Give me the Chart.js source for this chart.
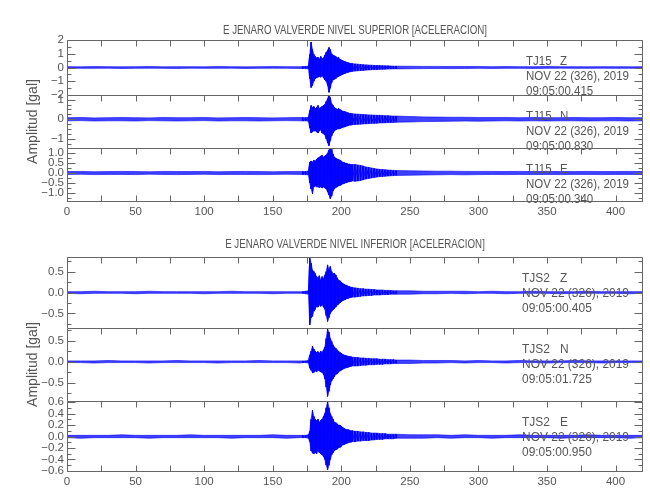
<!DOCTYPE html>
<html>
<head>
<meta charset="utf-8">
<script src="https://cdn.jsdelivr.net/npm/chart.js@4.4.1/dist/chart.umd.min.js"></script>
<style>
  body { margin: 0; background: #fff; overflow: hidden; }
  #wrap { position: relative; width: 650px; height: 500px; overflow: hidden; }
  #wrap canvas { position: absolute; left: 0; }
</style>
</head>
<body>
<div id="wrap"></div>
<script>
// time grid (s): quiet part, main shaking every 1 s, coda every 2 s, tail every 10 s
const times = [0,10,20,30,40,50,60,70,80,90,100,110,120,130,140,150,160,170,
  172,174,176,177,178,179,180,181,182,183,184,185,186,187,188,189,190,191,192,193,194,195,196,197,198,199,200,201,202,203,204,205,206,207,208,
  210,212,214,216,218,220,222,224,226,228,230,232,234,236,238,240,
  250,260,270,280,290,300,310,320,330,340,350,360,370,380,390,400,410,420];

// upper / lower envelope of each trace in gal
const z1Hi = [0.06,0.05,0.07,0.06,0.05,0.06,0.07,0.05,0.06,0.06,0.05,0.07,0.06,0.05,0.06,0.07,0.06,0.06,
  0.07,0.08,0.10,0.95,1.85,1.30,0.95,0.80,0.70,0.75,0.60,0.80,0.65,0.70,0.90,1.10,1.25,1.45,1.30,1.00,0.90,0.85,0.80,0.70,0.75,0.60,0.55,0.50,0.45,0.42,0.38,0.35,0.32,0.30,0.28,
  0.26,0.24,0.22,0.20,0.19,0.18,0.17,0.15,0.14,0.14,0.13,0.12,0.12,0.11,0.10,0.10,
  0.09,0.08,0.08,0.07,0.07,0.07,0.06,0.07,0.06,0.06,0.07,0.06,0.06,0.05,0.06,0.06,0.05,0.06];
const z1Lo = [-0.05,-0.06,-0.06,-0.05,-0.07,-0.06,-0.05,-0.06,-0.07,-0.05,-0.06,-0.06,-0.05,-0.07,-0.06,-0.05,-0.06,-0.07,
  -0.07,-0.08,-0.10,-0.80,-1.45,-1.30,-1.00,-0.80,-0.75,-0.70,-0.65,-0.70,-0.60,-0.75,-0.90,-1.00,-1.30,-1.80,-1.50,-1.10,-0.90,-0.85,-0.80,-0.70,-0.65,-0.60,-0.55,-0.50,-0.45,-0.42,-0.38,-0.35,-0.32,-0.30,-0.28,
  -0.26,-0.24,-0.22,-0.21,-0.19,-0.18,-0.16,-0.15,-0.15,-0.13,-0.13,-0.12,-0.11,-0.11,-0.10,-0.10,
  -0.09,-0.08,-0.07,-0.08,-0.07,-0.06,-0.07,-0.06,-0.06,-0.07,-0.06,-0.05,-0.06,-0.06,-0.05,-0.06,-0.06,-0.05];

const n1Hi = [0.08,0.09,0.07,0.08,0.09,0.08,0.07,0.09,0.08,0.08,0.09,0.07,0.08,0.09,0.08,0.07,0.08,0.09,
  0.09,0.08,0.10,0.45,0.70,0.60,0.65,0.55,0.60,0.70,0.55,0.60,0.65,0.70,0.75,0.90,1.05,1.25,1.10,0.80,0.70,0.60,0.55,0.50,0.55,0.50,0.45,0.42,0.40,0.38,0.35,0.33,0.30,0.30,0.28,
  0.27,0.26,0.25,0.24,0.23,0.22,0.22,0.21,0.20,0.20,0.19,0.18,0.18,0.17,0.16,0.16,
  0.14,0.12,0.11,0.10,0.10,0.09,0.09,0.09,0.08,0.09,0.08,0.08,0.09,0.08,0.08,0.09,0.08,0.08];
const n1Lo = [-0.08,-0.07,-0.09,-0.08,-0.08,-0.09,-0.07,-0.08,-0.09,-0.08,-0.07,-0.09,-0.08,-0.08,-0.09,-0.08,-0.07,-0.08,
  -0.09,-0.08,-0.10,-0.45,-0.70,-0.65,-0.60,-0.60,-0.65,-0.70,-0.60,-0.55,-0.70,-0.75,-0.80,-1.00,-1.20,-1.35,-1.10,-0.85,-0.70,-0.60,-0.55,-0.50,-0.50,-0.48,-0.45,-0.42,-0.40,-0.38,-0.35,-0.33,-0.30,-0.30,-0.28,
  -0.27,-0.26,-0.25,-0.24,-0.23,-0.22,-0.21,-0.21,-0.20,-0.19,-0.19,-0.18,-0.17,-0.17,-0.16,-0.15,
  -0.14,-0.12,-0.11,-0.10,-0.09,-0.10,-0.09,-0.08,-0.09,-0.08,-0.09,-0.08,-0.08,-0.09,-0.08,-0.08,-0.09,-0.08];

const e1Hi = [0.07,0.08,0.06,0.07,0.08,0.07,0.06,0.08,0.07,0.07,0.08,0.06,0.07,0.08,0.07,0.06,0.07,0.08,
  0.08,0.08,0.10,0.55,0.60,0.55,0.63,0.60,0.70,0.75,0.80,0.85,0.88,0.80,0.85,0.90,1.00,1.15,1.30,1.20,0.95,0.80,0.75,0.70,0.68,0.65,0.60,0.55,0.52,0.50,0.48,0.45,0.45,0.42,0.42,
  0.42,0.40,0.38,0.35,0.30,0.28,0.25,0.22,0.20,0.18,0.17,0.16,0.15,0.14,0.13,0.12,
  0.11,0.10,0.09,0.09,0.08,0.08,0.08,0.07,0.08,0.07,0.08,0.07,0.07,0.08,0.07,0.07,0.08,0.07];
const e1Lo = [-0.07,-0.06,-0.08,-0.07,-0.07,-0.08,-0.06,-0.07,-0.08,-0.07,-0.06,-0.08,-0.07,-0.07,-0.08,-0.07,-0.06,-0.07,
  -0.08,-0.08,-0.10,-0.50,-0.80,-1.03,-0.70,-0.65,-0.70,-0.70,-0.72,-0.70,-0.75,-0.70,-0.75,-0.80,-0.95,-1.10,-1.28,-1.15,-0.90,-0.80,-0.72,-0.70,-0.65,-0.62,-0.60,-0.55,-0.52,-0.50,-0.48,-0.45,-0.44,-0.42,-0.40,
  -0.41,-0.40,-0.37,-0.34,-0.30,-0.27,-0.25,-0.22,-0.20,-0.18,-0.17,-0.16,-0.15,-0.14,-0.13,-0.12,
  -0.11,-0.10,-0.09,-0.08,-0.09,-0.08,-0.07,-0.08,-0.07,-0.08,-0.07,-0.08,-0.07,-0.07,-0.08,-0.07,-0.07,-0.08];

const z2Hi = [0.02,0.02,0.03,0.02,0.02,0.02,0.03,0.02,0.02,0.02,0.02,0.02,0.03,0.02,0.02,0.02,0.02,0.02,
  0.02,0.03,0.04,0.82,0.70,0.54,0.50,0.45,0.38,0.35,0.40,0.30,0.38,0.33,0.42,0.50,0.66,0.55,0.62,0.50,0.45,0.46,0.42,0.35,0.30,0.28,0.25,0.22,0.20,0.18,0.17,0.15,0.14,0.13,0.12,
  0.11,0.10,0.09,0.09,0.08,0.08,0.07,0.07,0.06,0.06,0.06,0.05,0.05,0.05,0.04,0.04,
  0.04,0.03,0.03,0.03,0.03,0.02,0.03,0.02,0.02,0.03,0.02,0.02,0.02,0.03,0.02,0.02,0.02,0.02];
const z2Lo = [-0.02,-0.03,-0.02,-0.02,-0.02,-0.03,-0.02,-0.02,-0.02,-0.02,-0.03,-0.02,-0.02,-0.02,-0.02,-0.03,-0.02,-0.02,
  -0.02,-0.03,-0.04,-0.77,-0.60,-0.57,-0.45,-0.40,-0.33,-0.35,-0.30,-0.33,-0.30,-0.35,-0.40,-0.55,-0.69,-0.60,-0.50,-0.45,-0.41,-0.38,-0.35,-0.30,-0.28,-0.25,-0.22,-0.20,-0.18,-0.17,-0.15,-0.14,-0.13,-0.12,-0.11,
  -0.11,-0.10,-0.09,-0.08,-0.08,-0.07,-0.07,-0.06,-0.06,-0.06,-0.05,-0.05,-0.05,-0.04,-0.04,-0.04,
  -0.04,-0.03,-0.03,-0.02,-0.03,-0.02,-0.02,-0.03,-0.02,-0.02,-0.02,-0.03,-0.02,-0.02,-0.02,-0.02,-0.03,-0.02];

const n2Hi = [0.02,0.02,0.02,0.03,0.02,0.02,0.02,0.02,0.03,0.02,0.02,0.02,0.02,0.02,0.03,0.02,0.02,0.02,
  0.02,0.02,0.03,0.16,0.25,0.37,0.30,0.25,0.22,0.24,0.20,0.25,0.22,0.28,0.35,0.55,0.77,0.70,0.55,0.48,0.40,0.35,0.32,0.28,0.25,0.22,0.20,0.18,0.16,0.15,0.14,0.13,0.12,0.12,0.11,
  0.10,0.10,0.09,0.09,0.08,0.08,0.07,0.07,0.07,0.06,0.06,0.06,0.05,0.05,0.05,0.04,
  0.04,0.03,0.03,0.03,0.02,0.03,0.02,0.02,0.03,0.02,0.02,0.02,0.03,0.02,0.02,0.02,0.02,0.02];
const n2Lo = [-0.02,-0.02,-0.03,-0.02,-0.02,-0.02,-0.03,-0.02,-0.02,-0.02,-0.02,-0.03,-0.02,-0.02,-0.02,-0.02,-0.02,-0.03,
  -0.02,-0.02,-0.03,-0.15,-0.20,-0.26,-0.25,-0.22,-0.24,-0.20,-0.22,-0.24,-0.25,-0.30,-0.40,-0.60,-0.82,-0.70,-0.55,-0.45,-0.40,-0.35,-0.30,-0.28,-0.25,-0.22,-0.20,-0.18,-0.16,-0.15,-0.14,-0.13,-0.12,-0.11,-0.10,
  -0.10,-0.10,-0.09,-0.08,-0.08,-0.07,-0.07,-0.07,-0.06,-0.06,-0.06,-0.05,-0.05,-0.05,-0.04,-0.04,
  -0.04,-0.03,-0.03,-0.02,-0.03,-0.02,-0.02,-0.03,-0.02,-0.02,-0.03,-0.02,-0.02,-0.02,-0.03,-0.02,-0.02,-0.02];

const e2Hi = [0.02,0.02,0.02,0.02,0.03,0.02,0.02,0.02,0.02,0.03,0.02,0.02,0.02,0.02,0.02,0.03,0.02,0.02,
  0.02,0.02,0.03,0.09,0.30,0.46,0.35,0.30,0.28,0.30,0.25,0.28,0.30,0.35,0.40,0.50,0.61,0.50,0.40,0.35,0.30,0.25,0.24,0.22,0.20,0.20,0.18,0.16,0.14,0.13,0.12,0.12,0.11,0.10,0.10,
  0.09,0.09,0.08,0.08,0.07,0.07,0.06,0.06,0.06,0.05,0.05,0.05,0.04,0.04,0.04,0.04,
  0.03,0.03,0.03,0.02,0.03,0.02,0.02,0.02,0.03,0.02,0.02,0.02,0.02,0.03,0.02,0.02,0.02,0.02];
const e2Lo = [-0.02,-0.03,-0.02,-0.02,-0.02,-0.02,-0.03,-0.02,-0.02,-0.02,-0.02,-0.02,-0.03,-0.02,-0.02,-0.02,-0.03,-0.02,
  -0.02,-0.02,-0.03,-0.09,-0.25,-0.29,-0.30,-0.28,-0.30,-0.25,-0.28,-0.30,-0.32,-0.35,-0.40,-0.50,-0.58,-0.50,-0.40,-0.32,-0.28,-0.25,-0.23,-0.22,-0.20,-0.19,-0.17,-0.15,-0.14,-0.13,-0.12,-0.11,-0.10,-0.10,-0.09,
  -0.09,-0.08,-0.08,-0.07,-0.07,-0.07,-0.06,-0.06,-0.05,-0.05,-0.05,-0.04,-0.04,-0.04,-0.04,-0.03,
  -0.03,-0.03,-0.02,-0.03,-0.02,-0.02,-0.03,-0.02,-0.02,-0.02,-0.02,-0.03,-0.02,-0.02,-0.02,-0.02,-0.03,-0.02];

// axis ticks
const xTicks = [0, 50, 100, 150, 200, 250, 300, 350, 400];
const yTicks1 = [2, 1, 0, -1, -2];
const yTicks2 = [1, 0, -1];
const yTicks3 = [1, 0.5, 0, -0.5, -1];
const yTicks4 = [0.5, 0, -0.5];
const yTicks5 = [0.5, 0, -0.5];
const yTicks6 = [0.6, 0.4, 0.2, 0, -0.2, -0.4, -0.6];

const titles = ['E JENARO VALVERDE NIVEL SUPERIOR [ACELERACION]', 'E JENARO VALVERDE NIVEL INFERIOR [ACELERACION]'];
const stations = ['TJ15', 'TJ15', 'TJ15', 'TJS2', 'TJS2', 'TJS2'];
const comps = ['Z', 'N', 'E', 'Z', 'N', 'E'];
const dateText = 'NOV 22 (326), 2019';
const startTimes = ['09:05:00.415', '09:05:00.830', '09:05:00.340', '09:05:00.405', '09:05:01.725', '09:05:00.950'];

const FONT = '"Liberation Sans Narrow", "Liberation Sans", Arial, sans-serif';
const TEXT = '#555';
const FRAME = '#666';
const TRACE = 'rgba(0, 0, 255, 0.9)';
const BAND = 'rgba(0, 0, 255, 0.75)';
const PAD = 40;   // room above/below each panel in its canvas
const XAX = 20;   // x-axis label band on the bottom panels
const SHAKE = [172, 240];  // window where the 1-2 s strokes are drawn

const panels = [
  { top: 40,  bottom: 95,  min: -2,    max: 2,    ticks: yTicks1, dec: 0, minor: 0.5,  hi: z1Hi, lo: z1Lo, group: 0, title: true },
  { top: 95,  bottom: 148, min: -1.47, max: 1.24, ticks: yTicks2, dec: 0, minor: 0.25, hi: n1Hi, lo: n1Lo, group: 0, ylabel: true },
  { top: 148, bottom: 202, min: -1.45, max: 1.25, ticks: yTicks3, dec: 1, minor: 0.25, hi: e1Hi, lo: e1Lo, group: 0, last: true },
  { top: 257, bottom: 328, min: -0.85, max: 0.85, ticks: yTicks4, dec: 1, minor: 0.25, hi: z2Hi, lo: z2Lo, group: 1, title: true },
  { top: 328, bottom: 401, min: -0.93, max: 0.8,  ticks: yTicks5, dec: 1, minor: 0.25, hi: n2Hi, lo: n2Lo, group: 1, ylabel: true },
  { top: 401, bottom: 472, min: -0.62, max: 0.62, ticks: yTicks6, dec: 1, minor: 0.1,  hi: e2Hi, lo: e2Lo, group: 1, last: true },
];
const titleY = [30, 244];
const textX = [526, 522];
const dateW = [103, 107];

function fmt(v, dec) {
  const s = Math.abs(v).toFixed(dec);
  return v < 0 ? '\u2212' + s : s;
}

// draw text squeezed/stretched horizontally by sx
function drawScaled(ctx, s, x, y, sx) {
  ctx.save();
  ctx.translate(x, y);
  ctx.scale(sx, 1);
  ctx.fillText(s, 0, 0);
  ctx.restore();
}

function makeDeco(p, i, canvasTop) {
  return {
    id: 'deco',
    afterDatasetsDraw(chart) {
      const { ctx, chartArea: a, scales: { x, y } } = chart;
      const L = Math.round(a.left) + 0.5, R = Math.round(a.right) - 0.5;
      const T = Math.round(a.top) + 0.5, B = Math.round(a.bottom) - 0.5;
      ctx.save();
      ctx.strokeStyle = FRAME;
      ctx.lineWidth = 1;
      ctx.beginPath();
      // box: top, sides, bottom only on the last panel
      ctx.moveTo(L, B + 0.5); ctx.lineTo(L, T); ctx.lineTo(R, T); ctx.lineTo(R, B + 0.5);
      if (p.last) { ctx.moveTo(L, B); ctx.lineTo(R, B); }
      // y ticks, major and minor, on both sides pointing in
      const n0 = Math.ceil(p.min / p.minor - 1e-6), n1 = Math.floor(p.max / p.minor + 1e-6);
      for (let n = n0; n <= n1; n++) {
        const v = n * p.minor;
        const major = p.ticks.some(t => Math.abs(t - v) < 1e-6);
        const len = major ? 8 : 4;
        const py = Math.round(y.getPixelForValue(v)) + 0.5;
        ctx.moveTo(L, py); ctx.lineTo(L + len, py);
        ctx.moveTo(R, py); ctx.lineTo(R - len, py);
      }
      // x ticks every 25 s
      for (let t = 25; t <= 420; t += 25) {
        const px = Math.round(x.getPixelForValue(t)) + 0.5;
        ctx.moveTo(px, T); ctx.lineTo(px, T + 6);
        if (p.last) { ctx.moveTo(px, B); ctx.lineTo(px, B - 6); }
      }
      ctx.stroke();

      ctx.fillStyle = TEXT;
      ctx.textBaseline = 'alphabetic';
      ctx.textAlign = 'left';
      // station block
      ctx.font = '12px ' + FONT;
      const sx = dateW[p.group] / ctx.measureText(dateText).width;
      const tx = textX[p.group];
      drawScaled(ctx, stations[i], tx, T + 24.5, sx);
      drawScaled(ctx, comps[i], 560, T + 24.5, sx);
      drawScaled(ctx, dateText, tx, T + 39, sx);
      drawScaled(ctx, startTimes[i], tx, T + 54, sx);

      if (p.title) {
        ctx.font = '13px ' + FONT;
        ctx.textAlign = 'center';
        ctx.textBaseline = 'middle';
        const w = ctx.measureText(titles[0]).width;
        drawScaled(ctx, titles[p.group], (a.left + a.right) / 2, titleY[p.group] - canvasTop, 264 / w);
      }
      if (p.ylabel) {
        ctx.font = '14px ' + FONT;
        ctx.textAlign = 'center';
        ctx.textBaseline = 'middle';
        ctx.translate(33, (a.top + a.bottom) / 2);
        ctx.rotate(-Math.PI / 2);
        ctx.fillText('Amplitud [gal]', 0, 0);
      }
      ctx.restore();
    }
  };
}

const wrap = document.getElementById('wrap');
panels.forEach((p, i) => {
  const canvasTop = p.top - PAD;
  const cv = document.createElement('canvas');
  cv.width = 650;
  cv.height = p.bottom - p.top + 2 * PAD;
  cv.style.top = canvasTop + 'px';
  wrap.appendChild(cv);

  // in the shaking window each bin is a stroke from its upper to its lower value
  const zig = [];
  times.forEach((t, k) => {
    if (t < SHAKE[0] || t > SHAKE[1]) return;
    zig.push({ x: t, y: p.hi[k] });
    zig.push({ x: t, y: p.lo[k] });
  });
  // envelope band for the whole record
  const upper = times.map((t, k) => ({ x: t, y: p.hi[k] }));
  const lower = times.map((t, k) => ({ x: t, y: p.lo[k] }));

  new Chart(cv, {
    type: 'line',
    data: {
      datasets: [
        { data: zig, borderColor: TRACE, borderWidth: 1, pointRadius: 0, tension: 0, fill: false },
        { data: upper, borderColor: BAND, borderWidth: 0.8, pointRadius: 0, tension: 0, fill: false },
        { data: lower, borderColor: BAND, borderWidth: 0.8, pointRadius: 0, tension: 0, fill: '-1', backgroundColor: BAND },
      ],
    },
    options: {
      responsive: false,
      animation: false,
      events: [],
      layout: { padding: { top: PAD, bottom: p.last ? PAD - XAX : PAD, left: 0, right: 7 } },
      plugins: { legend: { display: false }, tooltip: { enabled: false } },
      scales: {
        x: {
          type: 'linear', min: 0, max: 420,
          display: !!p.last,
          afterBuildTicks: s => { s.ticks = xTicks.map(v => ({ value: v })); },
          afterFit: s => { s.height = p.last ? XAX : 0; },
          grid: { display: false, drawTicks: false },
          border: { display: false },
          ticks: { autoSkip: false, maxRotation: 0, padding: 3, color: TEXT,
                   font: { family: FONT, size: 11.5 }, callback: v => String(v) },
        },
        y: {
          type: 'linear', min: p.min, max: p.max,
          afterBuildTicks: s => { s.ticks = p.ticks.map(v => ({ value: v })); },
          afterFit: s => { s.width = 67; },
          grid: { display: false, drawTicks: false },
          border: { display: false },
          ticks: { autoSkip: false, padding: 3, color: TEXT,
                   font: { family: FONT, size: 11.5 }, callback: v => fmt(v, p.dec) },
        },
      },
    },
    plugins: [makeDeco(p, i, canvasTop)],
  });
});
</script>
</body>
</html>
